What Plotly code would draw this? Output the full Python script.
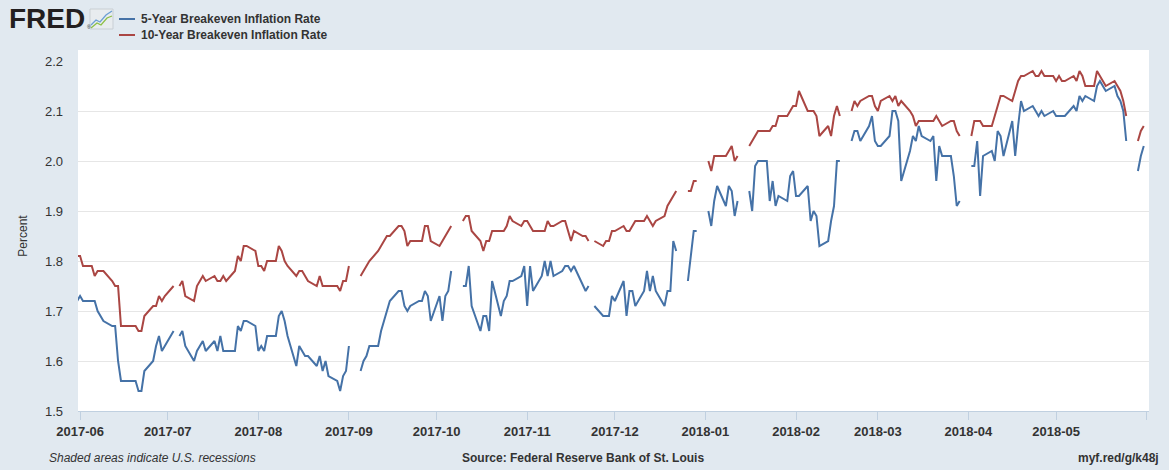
import plotly.graph_objects as go

# ---------------- data ----------------
dates = [
    "2017-05-31", "2017-06-01", "2017-06-02",
    "2017-06-05", "2017-06-06", "2017-06-07", "2017-06-08", "2017-06-09",
    "2017-06-12", "2017-06-13", "2017-06-14", "2017-06-15", "2017-06-16",
    "2017-06-19", "2017-06-20", "2017-06-21", "2017-06-22", "2017-06-23",
    "2017-06-26", "2017-06-27", "2017-06-28", "2017-06-29", "2017-06-30",
    "2017-07-03", "2017-07-04", "2017-07-05", "2017-07-06", "2017-07-07",
    "2017-07-10", "2017-07-11", "2017-07-12", "2017-07-13", "2017-07-14",
    "2017-07-17", "2017-07-18", "2017-07-19", "2017-07-20", "2017-07-21",
    "2017-07-24", "2017-07-25", "2017-07-26", "2017-07-27", "2017-07-28",
    "2017-07-31", "2017-08-01", "2017-08-02", "2017-08-03", "2017-08-04",
    "2017-08-07", "2017-08-08", "2017-08-09", "2017-08-10", "2017-08-11",
    "2017-08-14", "2017-08-15", "2017-08-16", "2017-08-17", "2017-08-18",
    "2017-08-21", "2017-08-22", "2017-08-23", "2017-08-24", "2017-08-25",
    "2017-08-28", "2017-08-29", "2017-08-30", "2017-08-31", "2017-09-01",
    "2017-09-04", "2017-09-05", "2017-09-06", "2017-09-07", "2017-09-08",
    "2017-09-11", "2017-09-12", "2017-09-13", "2017-09-14", "2017-09-15",
    "2017-09-18", "2017-09-19", "2017-09-20", "2017-09-21", "2017-09-22",
    "2017-09-25", "2017-09-26", "2017-09-27", "2017-09-28", "2017-09-29",
    "2017-10-02", "2017-10-03", "2017-10-04", "2017-10-05", "2017-10-06",
    "2017-10-09", "2017-10-10", "2017-10-11", "2017-10-12", "2017-10-13",
    "2017-10-16", "2017-10-17", "2017-10-18", "2017-10-19", "2017-10-20",
    "2017-10-23", "2017-10-24", "2017-10-25", "2017-10-26", "2017-10-27",
    "2017-10-30", "2017-10-31", "2017-11-01", "2017-11-02", "2017-11-03",
    "2017-11-06", "2017-11-07", "2017-11-08", "2017-11-09", "2017-11-10",
    "2017-11-13", "2017-11-14", "2017-11-15", "2017-11-16", "2017-11-17",
    "2017-11-20", "2017-11-21", "2017-11-22", "2017-11-23", "2017-11-24",
    "2017-11-27", "2017-11-28", "2017-11-29", "2017-11-30", "2017-12-01",
    "2017-12-04", "2017-12-05", "2017-12-06", "2017-12-07", "2017-12-08",
    "2017-12-11", "2017-12-12", "2017-12-13", "2017-12-14", "2017-12-15",
    "2017-12-18", "2017-12-19", "2017-12-20", "2017-12-21", "2017-12-22",
    "2017-12-25", "2017-12-26", "2017-12-27", "2017-12-28", "2017-12-29",
    "2018-01-01", "2018-01-02", "2018-01-03", "2018-01-04", "2018-01-05",
    "2018-01-08", "2018-01-09", "2018-01-10", "2018-01-11", "2018-01-12",
    "2018-01-15", "2018-01-16", "2018-01-17", "2018-01-18", "2018-01-19",
    "2018-01-22", "2018-01-23", "2018-01-24", "2018-01-25", "2018-01-26",
    "2018-01-29", "2018-01-30", "2018-01-31", "2018-02-01", "2018-02-02",
    "2018-02-05", "2018-02-06", "2018-02-07", "2018-02-08", "2018-02-09",
    "2018-02-12", "2018-02-13", "2018-02-14", "2018-02-15", "2018-02-16",
    "2018-02-19", "2018-02-20", "2018-02-21", "2018-02-22", "2018-02-23",
    "2018-02-26", "2018-02-27", "2018-02-28", "2018-03-01", "2018-03-02",
    "2018-03-05", "2018-03-06", "2018-03-07", "2018-03-08", "2018-03-09",
    "2018-03-12", "2018-03-13", "2018-03-14", "2018-03-15", "2018-03-16",
    "2018-03-19", "2018-03-20", "2018-03-21", "2018-03-22", "2018-03-23",
    "2018-03-26", "2018-03-27", "2018-03-28", "2018-03-29", "2018-03-30",
    "2018-04-02", "2018-04-03", "2018-04-04", "2018-04-05", "2018-04-06",
    "2018-04-09", "2018-04-10", "2018-04-11", "2018-04-12", "2018-04-13",
    "2018-04-16", "2018-04-17", "2018-04-18", "2018-04-19", "2018-04-20",
    "2018-04-23", "2018-04-24", "2018-04-25", "2018-04-26", "2018-04-27",
    "2018-04-30", "2018-05-01", "2018-05-02", "2018-05-03", "2018-05-04",
    "2018-05-07", "2018-05-08", "2018-05-09", "2018-05-10", "2018-05-11",
    "2018-05-14", "2018-05-15", "2018-05-16", "2018-05-17", "2018-05-18",
    "2018-05-21", "2018-05-22", "2018-05-23", "2018-05-24", "2018-05-25",
    "2018-05-28", "2018-05-29", "2018-05-30", "2018-05-31",
]

# 5-Year Breakeven Inflation Rate (None = market holiday)
t5yie = [
    1.72, 1.73, 1.72,
    1.72, 1.72, 1.70, 1.69, 1.68,
    1.67, 1.67, 1.60, 1.56, 1.56,
    1.56, 1.56, 1.54, 1.54, 1.58,
    1.60, 1.63, 1.65, 1.62, 1.63,
    1.66, None, 1.65, 1.66, 1.63,
    1.60, 1.62, 1.63, 1.64, 1.62,
    1.64, 1.62, 1.65, 1.62, 1.62,
    1.62, 1.67, 1.66, 1.68, 1.68,
    1.67, 1.62, 1.63, 1.62, 1.65,
    1.65, 1.69, 1.70, 1.68, 1.65,
    1.59, 1.63, 1.62, 1.61, 1.61,
    1.59, 1.61, 1.58, 1.60, 1.57,
    1.56, 1.54, 1.57, 1.58, 1.63,
    None, 1.58, 1.60, 1.61, 1.63,
    1.63, 1.66, 1.68, 1.70, 1.72,
    1.74, 1.74, 1.71, 1.70, 1.71,
    1.72, 1.72, 1.74, 1.73, 1.68,
    1.73, 1.68, 1.73, 1.74, 1.78,
    None, 1.75, 1.75, 1.79, 1.71,
    1.66, 1.69, 1.69, 1.66, 1.76,
    1.69, 1.72, 1.73, 1.76, 1.76,
    1.77, 1.79, 1.71, 1.79, 1.74,
    1.77, 1.80, 1.77, 1.80, 1.77,
    1.78, 1.79, 1.79, 1.78, 1.79,
    1.75, 1.74, 1.75, None, 1.71,
    1.69, 1.69, 1.69, 1.73, 1.72,
    1.76, 1.69, 1.74, 1.74, 1.71,
    1.74, 1.78, 1.74, 1.77, 1.74,
    1.71, 1.74, 1.74, 1.84, 1.82,
    None, 1.76, 1.81, 1.86, 1.86,
    None, 1.90, 1.87, 1.92, 1.95,
    1.91, 1.95, 1.94, 1.89, 1.92,
    None, 1.94, 1.90, 1.99, 2.00,
    2.00, 1.92, 1.96, 1.91, 1.93,
    1.92, 1.97, 1.98, 1.93, 1.93,
    1.95, 1.88, 1.90, 1.89, 1.83,
    1.84, 1.88, 1.91, 2.00, 2.00,
    None, 2.04, 2.06, 2.06, 2.04,
    2.07, 2.09, 2.04, 2.03, 2.03,
    2.05, 2.10, 2.10, 2.08, 1.96,
    2.02, 2.05, 2.04, 2.07, 2.05,
    2.04, 2.05, 1.96, 2.03, 2.01,
    2.01, 1.97, 1.91, 1.92, None,
    1.99, 1.99, 2.04, 1.93, 2.01,
    2.02, 2.00, 2.06, 2.05, 2.01,
    2.08, 2.01, 2.07, 2.12, 2.10,
    2.11, 2.10, 2.09, 2.10, 2.09,
    2.10, 2.09, 2.09, 2.09, 2.09,
    2.11, 2.10, 2.13, 2.12, 2.13,
    2.12, 2.15, 2.16, 2.15, 2.14,
    2.15, 2.13, 2.12, 2.10, 2.04,
    None, 1.98, 2.01, 2.03,
]

# 10-Year Breakeven Inflation Rate (None = market holiday)
t10yie = [
    1.81, 1.81, 1.79,
    1.79, 1.77, 1.78, 1.78, 1.78,
    1.76, 1.75, 1.75, 1.67, 1.67,
    1.67, 1.67, 1.66, 1.66, 1.69,
    1.71, 1.71, 1.73, 1.72, 1.73,
    1.75, None, 1.75, 1.76, 1.73,
    1.72, 1.75, 1.76, 1.77, 1.76,
    1.77, 1.76, 1.76, 1.77, 1.76,
    1.78, 1.81, 1.80, 1.83, 1.83,
    1.82, 1.79, 1.79, 1.78, 1.80,
    1.80, 1.83, 1.82, 1.80, 1.79,
    1.77, 1.78, 1.78, 1.77, 1.76,
    1.75, 1.77, 1.75, 1.75, 1.75,
    1.75, 1.74, 1.76, 1.76, 1.79,
    None, 1.77, 1.78, 1.79, 1.80,
    1.82, 1.83, 1.84, 1.85, 1.85,
    1.87, 1.87, 1.86, 1.83, 1.84,
    1.84, 1.84, 1.87, 1.87, 1.84,
    1.83, 1.84, 1.85, 1.86, 1.87,
    None, 1.88, 1.89, 1.89, 1.86,
    1.84, 1.82, 1.84, 1.84, 1.86,
    1.86, 1.86, 1.87, 1.89, 1.88,
    1.87, 1.88, 1.88, 1.87, 1.86,
    1.86, 1.86, 1.88, 1.87, 1.87,
    1.88, 1.88, 1.86, 1.84, 1.86,
    1.85, 1.85, 1.84, None, 1.84,
    1.83, 1.84, 1.84, 1.86, 1.86,
    1.87, 1.86, 1.86, 1.87, 1.88,
    1.88, 1.89, 1.88, 1.87, 1.88,
    1.89, 1.91, 1.92, 1.93, 1.94,
    None, 1.94, 1.94, 1.96, 1.96,
    None, 2.00, 1.98, 2.01, 2.01,
    2.01, 2.02, 2.03, 2.00, 2.01,
    None, 2.03, 2.04, 2.05, 2.06,
    2.06, 2.06, 2.07, 2.07, 2.09,
    2.09, 2.10, 2.11, 2.11, 2.14,
    2.10, 2.10, 2.10, 2.09, 2.05,
    2.07, 2.05, 2.09, 2.11, 2.09,
    None, 2.10, 2.12, 2.11, 2.12,
    2.13, 2.13, 2.11, 2.10, 2.12,
    2.13, 2.12, 2.13, 2.11, 2.12,
    2.10, 2.09, 2.07, 2.08, 2.08,
    2.08, 2.08, 2.09, 2.08, 2.07,
    2.08, 2.08, 2.06, 2.05, None,
    2.05, 2.08, 2.08, 2.08, 2.07,
    2.07, 2.09, 2.11, 2.13, 2.13,
    2.12, 2.14, 2.16, 2.17, 2.17,
    2.18, 2.17, 2.17, 2.18, 2.17,
    2.17, 2.16, 2.17, 2.16, 2.16,
    2.17, 2.16, 2.18, 2.17, 2.15,
    2.15, 2.18, 2.17, 2.16, 2.15,
    2.16, 2.15, 2.14, 2.12, 2.09,
    None, 2.04, 2.06, 2.07,
]

series_names = ["5-Year Breakeven Inflation Rate", "10-Year Breakeven Inflation Rate"]
series_colors = ["#4572A7", "#AA4643"]
y_ticks = [1.5, 1.6, 1.7, 1.8, 1.9, 2.0, 2.1, 2.2]

# ---------------- layout geometry (pixels) ----------------
W, H = 1169, 470
PL, PR, PT, PB = 78, 1149, 61, 411
BG = "#E1E9F0"
TXT = "#333333"
FONT = "Liberation Sans, Arial, sans-serif"


def px(xp):
    return (xp - PL) / (PR - PL)


def py(yp):
    return (PB - yp) / (PB - PT)


fig = go.Figure()
for name, vals, col in zip(series_names, [t5yie, t10yie], series_colors):
    fig.add_trace(go.Scatter(
        x=dates, y=vals, name=name, mode="lines",
        line=dict(color=col, width=2), connectgaps=False,
        showlegend=False, hoverinfo="x+y",
    ))

shapes = [
    # white chart panel (slightly taller than the plot area)
    dict(type="rect", xref="paper", yref="paper", x0=px(PL), x1=px(PR),
         y0=py(PB), y1=py(50), fillcolor="white", line=dict(width=0), layer="below"),
]
annotations = []

# legend (manual, FRED style)
for i, (name, col) in enumerate(zip(series_names, series_colors)):
    yy = 19 + i * 16
    shapes.append(dict(type="line", xref="paper", yref="paper",
                       x0=px(119), x1=px(135), y0=py(yy), y1=py(yy),
                       line=dict(color=col, width=2)))
    annotations.append(dict(text=name, xref="paper", yref="paper",
                            x=px(139), y=py(yy), xanchor="left", yanchor="middle",
                            showarrow=False,
                            font=dict(family=FONT, size=12, color=TXT, weight="bold")))

# FRED logo text + small icon
annotations.append(dict(text="FRED", xref="paper", yref="paper", x=px(7), y=py(18),
                        xanchor="left", yanchor="middle", showarrow=False,
                        font=dict(family=FONT, size=28, color="#231F20", weight="bold")))
annotations.append(dict(text="®", xref="paper", yref="paper", x=px(85), y=py(27),
                        xanchor="left", yanchor="middle", showarrow=False,
                        font=dict(family=FONT, size=5, color="#231F20")))
shapes.append(dict(type="rect", xref="paper", yref="paper", x0=px(90), x1=px(113),
                   y0=py(29), y1=py(9), fillcolor="#E8ECEF",
                   line=dict(color="#C9CFD4", width=1)))
shapes.append(dict(type="path", xref="paper", yref="paper",
                   path="M {} {} L {} {} L {} {} L {} {} L {} {}".format(
                       px(91), py(25), px(96), py(20), px(100), py(22), px(106), py(15), px(112), py(11)),
                   line=dict(color="#6C9FD3", width=1.3)))
shapes.append(dict(type="path", xref="paper", yref="paper",
                   path="M {} {} L {} {} L {} {} L {} {} L {} {}".format(
                       px(91), py(28), px(97), py(23), px(101), py(25), px(107), py(18), px(112), py(16)),
                   line=dict(color="#8DBF45", width=1.3)))

# footer
annotations.append(dict(text="<i>Shaded areas indicate U.S. recessions</i>", xref="paper", yref="paper",
                        x=px(47), y=py(458), xanchor="left", yanchor="middle", showarrow=False,
                        font=dict(family=FONT, size=12, color=TXT)))
annotations.append(dict(text="Source: Federal Reserve Bank of St. Louis", xref="paper", yref="paper",
                        x=px(583), y=py(458), xanchor="center", yanchor="middle", showarrow=False,
                        font=dict(family=FONT, size=12, color=TXT, weight="bold")))
annotations.append(dict(text="myf.red/g/k48j", xref="paper", yref="paper",
                        x=px(1161), y=py(458), xanchor="right", yanchor="middle", showarrow=False,
                        font=dict(family=FONT, size=12, color=TXT, weight="bold")))

fig.update_layout(
    width=W, height=H,
    margin=dict(l=PL, r=W - PR, t=PT, b=H - PB, pad=0),
    paper_bgcolor=BG, plot_bgcolor="white",
    font=dict(family=FONT, color=TXT, size=12),
    shapes=shapes, annotations=annotations,
    xaxis=dict(
        type="date", range=["2017-05-31 07:00", "2018-06-01 19:00"],
        tick0="2017-06-01", dtick="M1", tickformat="%Y-%m",
        showgrid=False, zeroline=False,
        showline=True, linecolor="#C0D0E0", linewidth=1,
        ticks="outside", ticklen=8, tickcolor="#C0D0E0",
        tickfont=dict(family=FONT, size=13, color=TXT, weight="bold"),
        automargin=False, fixedrange=True,
    ),
    yaxis=dict(
        range=[1.5, 2.2], tickvals=y_ticks, tickformat=".1f",
        showgrid=True, gridcolor="#E6E6E6", gridwidth=1, zeroline=False,
        showline=False, ticks="", ticklabelstandoff=14,
        tickfont=dict(family=FONT, size=13, color=TXT),
        title=dict(text="Percent", font=dict(family=FONT, size=12, color=TXT), standoff=14),
        automargin=False, fixedrange=True,
    ),
)

fig.write_html(
    "out.html",
    config={"displayModeBar": False},
    post_script="document.body.style.margin='0';document.body.style.overflow='hidden';",
)
